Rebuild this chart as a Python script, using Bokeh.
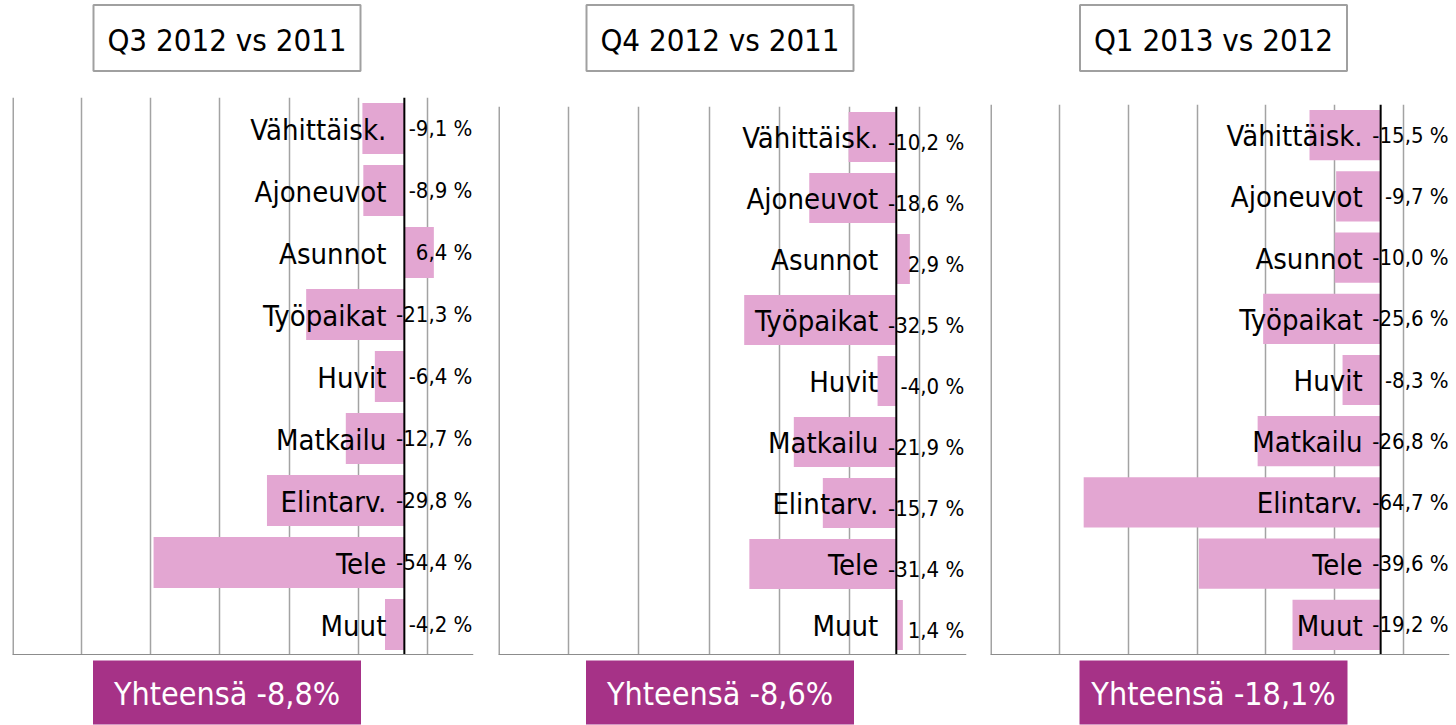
from bokeh.plotting import figure
from bokeh.models import ColumnDataSource, FactorRange, Range1d, Span, Grid, FixedTicker
from bokeh.layouts import row, column
from bokeh.core.properties import value
from bokeh.embed import file_html
from bokeh.resources import INLINE

# ---------------- data ----------------
categories = ["Vähittäisk.", "Ajoneuvot", "Asunnot", "Työpaikat", "Huvit",
              "Matkailu", "Elintarv.", "Tele", "Muut"]
titles = ["Q3 2012 vs 2011", "Q4 2012 vs 2011", "Q1 2013 vs 2012"]
q3_2012 = [-9.1, -8.9, 6.4, -21.3, -6.4, -12.7, -29.8, -54.4, -4.2]
q4_2012 = [-10.2, -18.6, 2.9, -32.5, -4.0, -21.9, -15.7, -31.4, 1.4]
q1_2013 = [-15.5, -9.7, -10.0, -25.6, -8.3, -26.8, -64.7, -39.6, -19.2]
totals = [-8.8, -8.6, -18.1]
total_label = "Yhteensä"
grid_ticks = [-85, -70, -55, -40, -25, -10, 5]
x_min, x_max = -85, 15

series = [q3_2012, q4_2012, q1_2013]

# ---------------- styles ----------------
FONT = "DejaVu Sans Condensed"
BAR = "#e3a6d2"
TOTAL = "#a63287"
GRID = "#a3a3a3"
AXIS = "#8c8c8c"


def fmt(v):
    return f"{v:.1f}".replace(".", ",")


panels = [
    dict(width=486, left=12, right=13, top=97, box_cx=214.5, val_dy=0),
    dict(width=492, left=12, right=12, top=106, box_cx=221.5, val_dy=5),
    dict(width=477, left=12, right=6, top=104, box_cx=223, val_dy=0),
]
FRAME_BOTTOM = 655
PAGE_H = 725


def box_fig(w, h, left, right):
    fw = w - left - right
    p = figure(width=w, height=h, x_range=Range1d(0, fw), y_range=Range1d(h, 0),
               output_backend="svg", toolbar_location=None,
               min_border_left=left, min_border_right=right,
               min_border_top=0, min_border_bottom=0,
               x_axis_location=None, y_axis_location=None)
    p.outline_line_color = None
    p.xgrid.visible = False
    p.ygrid.visible = False
    p.background_fill_color = None
    p.border_fill_color = None
    return p


cols = []
for i, cfg in enumerate(panels):
    w, left, right = cfg["width"], cfg["left"], cfg["right"]
    # title
    th = cfg["top"]
    tp = box_fig(w, th, left, right)
    tp.rect(x=[cfg["box_cx"]], y=[37.5], width=267, height=66,
            fill_color="white", line_color="#a0a0a0", line_width=2)
    tp.text(x=[cfg["box_cx"]], y=[39], text=[titles[i]], text_align="center",
            text_baseline="middle", text_font=value(FONT), text_font_size="31px",
            text_color="black")

    # chart
    ch = FRAME_BOTTOM - th
    vals = series[i]
    src = ColumnDataSource(dict(cat=categories, val=vals,
                                lab=[fmt(v) + " %" for v in vals]))
    p = figure(width=w, height=ch, x_range=Range1d(x_min, x_max),
               y_range=FactorRange(factors=categories[::-1]),
               output_backend="svg", toolbar_location=None,
               x_axis_location=None, y_axis_location=None,
               min_border_left=left, min_border_right=right,
               min_border_top=0, min_border_bottom=0)
    p.outline_line_color = None
    p.xgrid.visible = False
    p.ygrid.visible = False
    p.y_range.range_padding = 0
    p.add_layout(Grid(dimension=0, ticker=FixedTicker(ticks=grid_ticks),
                      grid_line_color=GRID, grid_line_width=1.5))
    p.add_layout(Span(location=x_min, dimension="height", line_color=GRID,
                      line_width=3))
    p.hbar(y="cat", left=0, right="val", height=0.82, fill_color=BAR,
           line_color=None, source=src)
    p.add_layout(Span(location=0, dimension="height", line_color="black",
                      line_width=2))
    p.add_layout(Span(location=0, dimension="width", line_color=AXIS,
                      line_width=3))
    p.text(x=0, y="cat", text="cat", source=src, x_offset=-18, y_offset=1,
           text_align="right", text_baseline="middle", text_font=value(FONT),
           text_font_size="29px", text_color="black")
    p.text(x=0, y="cat", text="lab", source=src, x_offset=68,
           y_offset=cfg["val_dy"], text_align="right", text_baseline="middle",
           text_font=value(FONT), text_font_size="22px", text_color="black")

    # total
    bh = PAGE_H - FRAME_BOTTOM
    bp = box_fig(w, bh, left, right)
    bp.rect(x=[cfg["box_cx"]], y=[37], width=268, height=64,
            fill_color=TOTAL, line_color=None)
    bp.text(x=[cfg["box_cx"]], y=[38],
            text=[f"{total_label} {fmt(totals[i])}%"], text_align="center",
            text_baseline="middle", text_font=value(FONT), text_font_size="32px",
            text_color="white")

    cols.append(column(tp, p, bp, spacing=0))

layout = row(*cols, spacing=0)
open("out.html", "w").write(file_html(layout, INLINE))
